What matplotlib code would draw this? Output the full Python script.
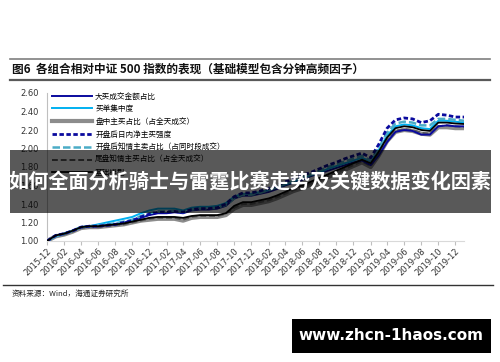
import matplotlib
matplotlib.use("Agg")
import matplotlib.pyplot as plt
from matplotlib.patches import Rectangle
import pandas as pd

plt.rcParams['font.family'] = ['Noto Sans CJK SC', 'DejaVu Sans']

dates = pd.date_range("2015-12-01", "2020-01-01", freq="MS")

base = [1.00, 1.06, 1.08, 1.11, 1.15, 1.16, 1.16, 1.17, 1.18, 1.19, 1.21, 1.23, 1.25, 1.26, 1.26, 1.26, 1.25,
        1.27, 1.28, 1.28, 1.28, 1.30, 1.38, 1.42, 1.42, 1.44, 1.46, 1.49, 1.53, 1.57, 1.60, 1.64, 1.68, 1.72,
        1.76, 1.80, 1.84, 1.88, 1.84, 1.96, 2.12, 2.22, 2.24, 2.23, 2.20, 2.19, 2.28, 2.28, 2.27, 2.265]
big_buy = [1.00, 1.06, 1.08, 1.11, 1.15, 1.16, 1.16, 1.17, 1.18, 1.20, 1.22, 1.25, 1.28, 1.30, 1.30, 1.31, 1.30,
           1.33, 1.34, 1.34, 1.35, 1.38, 1.46, 1.49, 1.49, 1.51, 1.53, 1.56, 1.60, 1.63, 1.66, 1.70, 1.73, 1.76,
           1.79, 1.82, 1.85, 1.87, 1.82, 1.92, 2.07, 2.18, 2.20, 2.19, 2.15, 2.15, 2.24, 2.25, 2.24, 2.24]
buy_conc = [1.00, 1.05, 1.08, 1.11, 1.15, 1.16, 1.18, 1.20, 1.22, 1.24, 1.26, 1.30, 1.33, 1.35, 1.35, 1.35, 1.33,
            1.36, 1.37, 1.37, 1.38, 1.41, 1.48, 1.51, 1.51, 1.53, 1.55, 1.58, 1.61, 1.64, 1.68, 1.71, 1.74, 1.78,
            1.81, 1.84, 1.87, 1.90, 1.86, 1.98, 2.14, 2.24, 2.26, 2.25, 2.22, 2.21, 2.30, 2.30, 2.29, 2.28]
intraday_buy = [1.00, 1.05, 1.07, 1.10, 1.14, 1.15, 1.15, 1.16, 1.17, 1.18, 1.20, 1.22, 1.23, 1.24, 1.24, 1.24, 1.22,
                1.25, 1.26, 1.26, 1.26, 1.28, 1.35, 1.39, 1.39, 1.41, 1.43, 1.46, 1.50, 1.54, 1.57, 1.61, 1.65, 1.69,
                1.73, 1.77, 1.81, 1.85, 1.80, 1.92, 2.08, 2.18, 2.20, 2.19, 2.16, 2.15, 2.23, 2.23, 2.22, 2.22]
open_net = [1.00, 1.06, 1.08, 1.11, 1.15, 1.16, 1.16, 1.17, 1.18, 1.20, 1.22, 1.26, 1.29, 1.31, 1.31, 1.32, 1.31,
            1.34, 1.35, 1.35, 1.36, 1.40, 1.48, 1.52, 1.52, 1.54, 1.57, 1.60, 1.64, 1.67, 1.71, 1.74, 1.78, 1.82,
            1.85, 1.89, 1.92, 1.95, 1.90, 2.04, 2.22, 2.31, 2.33, 2.32, 2.28, 2.30, 2.37, 2.36, 2.34, 2.34]
open_informed_sell = [1.00, 1.05, 1.08, 1.11, 1.15, 1.16, 1.17, 1.18, 1.19, 1.21, 1.23, 1.27, 1.30, 1.32, 1.32, 1.33,
                      1.31, 1.34, 1.35, 1.35, 1.36, 1.39, 1.46, 1.50, 1.50, 1.52, 1.55, 1.58, 1.62, 1.65, 1.69, 1.72,
                      1.76, 1.80, 1.83, 1.86, 1.89, 1.92, 1.87, 2.00, 2.17, 2.27, 2.29, 2.28, 2.25, 2.25, 2.32, 2.32,
                      2.31, 2.30]
close_informed_buy = [1.00, 1.05, 1.07, 1.10, 1.14, 1.15, 1.15, 1.16, 1.17, 1.18, 1.20, 1.22, 1.24, 1.25, 1.25, 1.25,
                      1.23, 1.26, 1.27, 1.27, 1.27, 1.29, 1.36, 1.40, 1.40, 1.42, 1.44, 1.47, 1.51, 1.55, 1.58, 1.62,
                      1.66, 1.70, 1.74, 1.78, 1.82, 1.86, 1.81, 1.93, 2.09, 2.19, 2.21, 2.20, 2.17, 2.16, 2.24, 2.25,
                      2.24, 2.23]

labels = ["大买成交金额占比", "买单集中度", "盘中主买占比（占全天成交）", "开盘后日内净主买强度",
          "开盘后知情主卖占比（占同时段成交）", "尾盘知情主买占比（占全天成交）", "基础模型"]
yticks = [1.00, 1.20, 1.40, 1.60, 1.80, 2.00, 2.20, 2.40, 2.60]

title = "图6  各组合相对中证 500 指数的表现（基础模型包含分钟高频因子）"
source = "资料来源：Wind，海通证券研究所"
banner = "如何全面分析骑士与雷霆比赛走势及关键数据变化因素"
watermark = "www.zhcn-1haos.com"

fig = plt.figure(figsize=(5.0, 3.62), dpi=100)
ax = fig.add_axes([47/500, 1-241/362, (464-47)/500, (241-93)/362])

l3, = ax.plot(dates, intraday_buy, color="#8c8c8c", lw=3.0, label=labels[2], zorder=2)
l6, = ax.plot(dates, close_informed_buy, color="#595959", lw=1.4, ls=(0, (3, 1.5)), label=labels[5], zorder=3)
l1, = ax.plot(dates, big_buy, color="#0a0a9e", lw=1.4, label=labels[0], zorder=4)
l2, = ax.plot(dates, buy_conc, color="#00b0f0", lw=1.4, label=labels[1], zorder=4)
l5, = ax.plot(dates, open_informed_sell, color="#4bacc6", lw=1.8, ls=(0, (3, 1.2)), label=labels[4], zorder=5)
l4, = ax.plot(dates, open_net, color="#0a0a9e", lw=2.0, ls=(0, (1.6, 0.9)), label=labels[3], zorder=5)
l7, = ax.plot(dates, base, color="#000000", lw=1.3, label=labels[6], zorder=6)

ax.set_ylim(1.0, 2.6)
ax.set_xlim(pd.Timestamp("2015-12-01"), pd.Timestamp("2020-01-01"))
ax.set_yticks(yticks)
ax.set_yticklabels([f"{v:.2f}" for v in yticks], fontsize=6, color="#333333", family="DejaVu Sans")
xt = pd.date_range("2015-12-01", "2019-12-01", freq="2MS")
ax.set_xticks(xt)
ax.set_xticklabels([d.strftime("%Y-%m") for d in xt], fontsize=6, rotation=45, ha="right",
                   rotation_mode="anchor", color="#333333", family="DejaVu Sans")
ax.tick_params(axis="y", length=0, pad=6)
ax.tick_params(axis="x", length=3, color="#bfbfbf", pad=1)
for s in ["top", "right"]:
    ax.spines[s].set_visible(False)
ax.spines["left"].set_color("#bfbfbf")
ax.spines["bottom"].set_color("#d9d9d9")

ax.legend(handles=[l1, l2, l3, l4, l5, l6, l7], loc="upper left", bbox_to_anchor=(0.0, 1.04),
          frameon=False, fontsize=5.5, handlelength=5.2, handletextpad=0.4, labelspacing=0.62,
          borderaxespad=0.3)

# header rules and title
fig.add_artist(plt.Line2D([10/500, 490/500], [1-59/362, 1-59/362], color="#7f7f7f", lw=1.2))
fig.add_artist(plt.Line2D([10/500, 490/500], [1-80/362, 1-80/362], color="#595959", lw=1.6))
fig.text(12/500, 1-69/362, title, fontsize=8.4, fontweight="bold", va="center", ha="left", color="#111111")
fig.add_artist(plt.Line2D([3/500, 493/500], [1-285/362, 1-285/362], color="#333333", lw=1.0))
fig.text(12/500, 1-294/362, source, fontsize=5.5, va="center", ha="left", color="#222222")

# overlay banner
fig.add_artist(Rectangle((10/500, 1-213/362), (491-10)/500, (213-150)/362, transform=fig.transFigure,
                         facecolor="black", alpha=0.65, edgecolor="none", zorder=10))
fig.text(250/500, 1-182/362, banner, fontsize=14.5, fontweight="bold", color="white",
         ha="center", va="center", zorder=11)

# watermark
fig.add_artist(Rectangle((292/500, 1-353/362), (491-292)/500, (353-319)/362, transform=fig.transFigure,
                         facecolor="black", edgecolor="none", zorder=10))
fig.text(391/500, 1-336/362, watermark, fontsize=11, fontweight="bold", color="white",
         ha="center", va="center", family="DejaVu Sans", zorder=11)

fig.savefig("out.png", dpi=100)
